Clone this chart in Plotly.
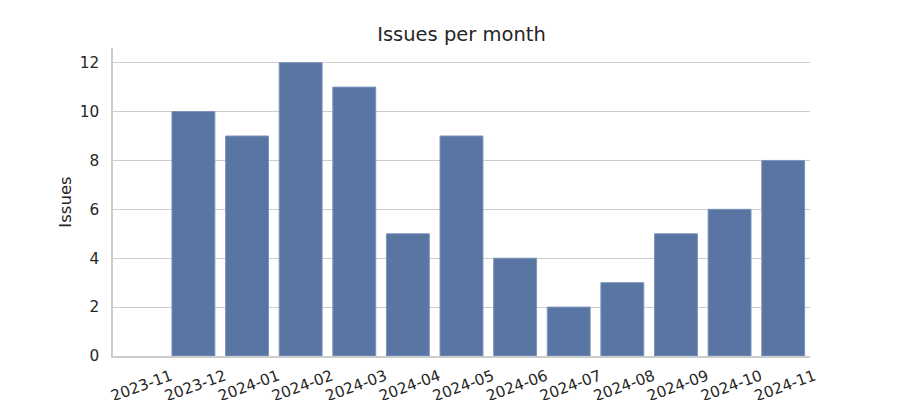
import plotly.graph_objects as go

months = ["2023-11", "2023-12", "2024-01", "2024-02", "2024-03", "2024-04", "2024-05",
          "2024-06", "2024-07", "2024-08", "2024-09", "2024-10", "2024-11"]
issues = [0, 10, 9, 12, 11, 5, 9, 4, 2, 3, 5, 6, 8]
y_ticks = [0, 2, 4, 6, 8, 10, 12]

text_color = "#262626"
grid_color = "#cccccc"
tick_size = 15.3

fig = go.Figure(go.Bar(
    x=months, y=issues,
    marker=dict(color="#5975a4",
                line=dict(color="#7d93b9", width=[0 if v == 0 else 1 for v in issues])),
    width=0.8,
))

fig.update_layout(
    width=900, height=400,
    margin=dict(l=105, r=98, t=40, b=52, autoexpand=False),
    plot_bgcolor="white", paper_bgcolor="white",
    font=dict(family="DejaVu Sans", color=text_color, size=14),
    title=dict(text="Issues per month", xref="paper", x=0.5, xanchor="center",
               y=0.935, yanchor="middle",
               font=dict(size=19.5, color=text_color)),
    showlegend=False,
    bargap=0.2,
)
fig.update_xaxes(
    type="category", range=[-0.5, 12.5], automargin=False,
    tickangle=-20, ticklabelshift=31, ticklabelstandoff=4,
    tickfont=dict(size=tick_size, color=text_color),
    showline=True, linecolor=grid_color, linewidth=1.5,
    showgrid=False, ticks="",
)
fig.update_yaxes(
    range=[0, 12.6], tickvals=y_ticks, automargin=False,
    showline=True, linecolor=grid_color, linewidth=1.5,
    showgrid=True, gridcolor=grid_color, gridwidth=1, zeroline=False,
    ticks="", ticklabelstandoff=9, tickfont=dict(size=tick_size, color=text_color),
    title=dict(text="Issues", font=dict(size=16.5, color=text_color), standoff=4),
)

fig.write_html("out.html")
